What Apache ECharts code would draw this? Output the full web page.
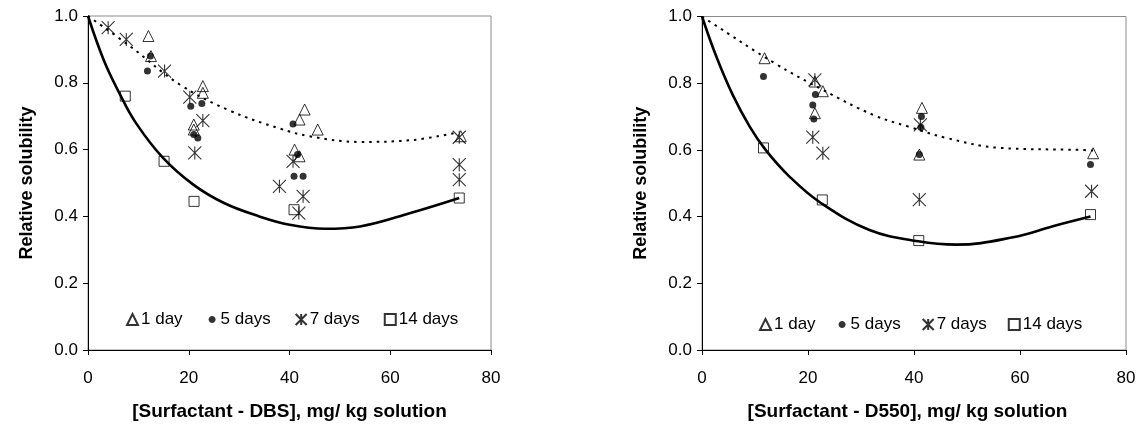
<!DOCTYPE html>
<html>
<head>
<meta charset="utf-8">
<script src="https://cdn.jsdelivr.net/npm/echarts@6/dist/echarts.min.js"></script>
<style>
  html, body { margin: 0; padding: 0; background: #fff; }
  #chart { width: 1144px; height: 426px; }
</style>
</head>
<body>
<div id="chart"></div>
<script>
// Relative solubility against surfactant concentration, two surfactants.
const X_TICKS = [0, 20, 40, 60, 80];
const Y_TICKS = [0.0, 0.2, 0.4, 0.6, 0.8, 1.0];
const SERIES_NAMES = ['1 day', '5 days', '7 days', '14 days'];

// DBS panel: [concentration mg/kg, relative solubility]
const DBS_1DAY = [[12, 0.94], [12.5, 0.88], [22.8, 0.79], [22.8, 0.77], [21, 0.675], [21, 0.66],
  [43, 0.72], [42, 0.69], [45.6, 0.66], [41, 0.60], [42, 0.58], [74, 0.64]];
const DBS_5DAYS = [[12.4, 0.88], [11.8, 0.835], [20.4, 0.73], [22.6, 0.738], [21, 0.645], [21.8, 0.635],
  [40.7, 0.677], [41.6, 0.585], [40.9, 0.52], [42.7, 0.52]];
const DBS_7DAYS = [[4, 0.965], [7.6, 0.93], [15.2, 0.835], [20.2, 0.757], [22.8, 0.687], [21.2, 0.59],
  [38, 0.49], [40.7, 0.565], [42.7, 0.46], [41.85, 0.41], [73.7, 0.637], [73.7, 0.555], [73.7, 0.51]];
const DBS_14DAYS = [[7.4, 0.76], [15.1, 0.565], [21.05, 0.445], [40.9, 0.42], [73.7, 0.455]];
const DBS_TREND_1DAY = [[0, 1.0], [8.3, 0.91], [18.2, 0.795], [28.1, 0.717], [38.1, 0.663], [44, 0.64],
  [54, 0.623], [64, 0.628], [72.8, 0.65]];
const DBS_TREND_14DAYS = [[0, 1.0], [3.2, 0.865], [6.2, 0.77], [9.5, 0.68], [14.9, 0.575], [20.9, 0.495],
  [27, 0.44], [34, 0.40], [40, 0.375], [47, 0.363], [54, 0.37], [64, 0.41], [73.7, 0.455]];

// D550 panel
const D550_1DAY = [[11.8, 0.875], [21.3, 0.805], [22.8, 0.776], [21.3, 0.71], [41.5, 0.726], [41, 0.586], [73.8, 0.59]];
const D550_5DAYS = [[11.6, 0.82], [21.4, 0.766], [20.9, 0.735], [21.1, 0.693], [41.4, 0.70], [41.3, 0.668],
  [41, 0.586], [73.3, 0.556]];
const D550_7DAYS = [[21.3, 0.81], [20.9, 0.638], [22.8, 0.59], [41.2, 0.675], [41, 0.451], [73.5, 0.476]];
const D550_14DAYS = [[11.6, 0.606], [22.7, 0.45], [40.9, 0.328], [73.3, 0.406]];
const D550_TREND_1DAY = [[0, 1.0], [1.45, 0.985], [13.7, 0.86], [22.8, 0.78], [32.3, 0.705], [38.9, 0.67],
  [46.1, 0.636], [56.2, 0.606], [71.3, 0.60], [73.8, 0.598]];
const D550_TREND_14DAYS = [[0, 1.0], [2.7, 0.88], [5.8, 0.765], [9, 0.67], [12, 0.6], [16.5, 0.52],
  [22.5, 0.44], [31.6, 0.36], [40.8, 0.326], [48, 0.316], [58.7, 0.338], [66.2, 0.371], [73.3, 0.40]];

const FONT = '"Liberation Sans", Arial, sans-serif';
const STAR = 'path://M0,0L12,12M12,0L0,12M6,0L6,12';
// small dot centred inside an 11x11 box, so the legend icon stays small
const SMALL_DOT = 'path://M0,0M11,11M9,5.5C9,7.433 7.433,9 5.5,9C3.567,9 2,7.433 2,5.5' +
  'C2,3.567 3.567,2 5.5,2C7.433,2 9,3.567 9,5.5Z';

const MARKERS = {
  '1 day':   { symbol: 'triangle', symbolSize: 11, itemStyle: { color: 'rgba(0,0,0,0)', borderColor: '#000', borderWidth: 1 } },
  '5 days':  { symbol: 'circle',   symbolSize: 7,  itemStyle: { color: '#000', borderColor: '#000', borderWidth: 0 } },
  '7 days':  { symbol: STAR,       symbolSize: 13, itemStyle: { color: 'rgba(0,0,0,0)', borderColor: '#000', borderWidth: 1.1 } },
  '14 days': { symbol: 'rect',     symbolSize: 10, itemStyle: { color: 'rgba(0,0,0,0)', borderColor: '#000', borderWidth: 1 } }
};

function scatter(name, data, idx) {
  const m = MARKERS[name];
  return {
    type: 'scatter', name: name, data: data,
    xAxisIndex: idx, yAxisIndex: idx,
    symbol: m.symbol, symbolSize: m.symbolSize, itemStyle: m.itemStyle,
    emphasis: { disabled: true }, z: 3
  };
}

function trend(name, data, idx, dotted) {
  return {
    type: 'line', name: name, data: data,
    xAxisIndex: idx, yAxisIndex: idx,
    showSymbol: false, smooth: 0.4, silent: true, z: 2,
    lineStyle: dotted ? { color: '#000', width: 2, type: [2.5, 5] } : { color: '#000', width: 2.6 }
  };
}

function xAxis(idx, title, pad) {
  return {
    type: 'value', gridIndex: idx, min: X_TICKS[0], max: X_TICKS[X_TICKS.length - 1],
    interval: X_TICKS[1] - X_TICKS[0],
    name: title, nameLocation: 'middle', nameGap: 52,
    nameTextStyle: { fontFamily: FONT, fontSize: 19, fontWeight: 'bold', color: '#000', padding: pad },
    axisLine: { onZero: false, lineStyle: { color: '#000', width: 1 } },
    axisTick: { inside: false, length: 5, lineStyle: { color: '#000' } },
    axisLabel: { fontFamily: FONT, fontSize: 17, color: '#000', margin: 20 },
    splitLine: { show: false }
  };
}

function yAxis(idx) {
  return {
    type: 'value', gridIndex: idx, min: Y_TICKS[0], max: Y_TICKS[Y_TICKS.length - 1],
    interval: Y_TICKS[1] - Y_TICKS[0],
    name: 'Relative solubility', nameLocation: 'middle', nameGap: 52, nameRotate: 90,
    nameTextStyle: { fontFamily: FONT, fontSize: 18, fontWeight: 'bold', color: '#000' },
    axisLine: { onZero: false, lineStyle: { color: '#000', width: 1 } },
    axisTick: { inside: false, length: 5, lineStyle: { color: '#000' } },
    axisLabel: { fontFamily: FONT, fontSize: 17, color: '#000', margin: 10,
      formatter: v => v.toFixed(1) },
    splitLine: { show: false }
  };
}

function legend(left, top, gap) {
  return {
    data: [
      { name: '1 day', icon: 'triangle' },
      { name: '5 days', icon: SMALL_DOT },
      { name: '7 days', icon: STAR },
      { name: '14 days', icon: 'rect' }
    ],
    left: left, top: top, orient: 'horizontal',
    itemWidth: 11, itemHeight: 11, itemGap: gap,
    selectedMode: false,
    textStyle: { fontFamily: FONT, fontSize: 17, color: '#000', padding: [0, 0, 0, -2] }
  };
}

const chart = echarts.init(document.getElementById('chart'), null, { renderer: 'canvas' });
chart.setOption({
  animation: false,
  backgroundColor: '#fff',
  grid: [
    { left: 88, top: 16, width: 403, height: 334, show: true, borderColor: '#8c8c8c', borderWidth: 1 },
    { left: 702, top: 16.5, width: 424, height: 335.5, show: true, borderColor: '#8c8c8c', borderWidth: 1 }
  ],
  xAxis: [
    xAxis(0, '[Surfactant - DBS], mg/ kg solution', [0, 0, 0, 0]),
    xAxis(1, '[Surfactant - D550], mg/ kg solution', [0, 13, 0, 0])
  ],
  yAxis: [yAxis(0), yAxis(1)],
  legend: [legend(121, 306, 24), legend(754, 311, 21)],
  series: [
    trend('DBS trend 1 day', DBS_TREND_1DAY, 0, true),
    trend('DBS trend 14 days', DBS_TREND_14DAYS, 0, false),
    scatter(SERIES_NAMES[0], DBS_1DAY, 0),
    scatter(SERIES_NAMES[1], DBS_5DAYS, 0),
    scatter(SERIES_NAMES[2], DBS_7DAYS, 0),
    scatter(SERIES_NAMES[3], DBS_14DAYS, 0),
    trend('D550 trend 1 day', D550_TREND_1DAY, 1, true),
    trend('D550 trend 14 days', D550_TREND_14DAYS, 1, false),
    scatter(SERIES_NAMES[0], D550_1DAY, 1),
    scatter(SERIES_NAMES[1], D550_5DAYS, 1),
    scatter(SERIES_NAMES[2], D550_7DAYS, 1),
    scatter(SERIES_NAMES[3], D550_14DAYS, 1)
  ]
});
</script>
</body>
</html>
